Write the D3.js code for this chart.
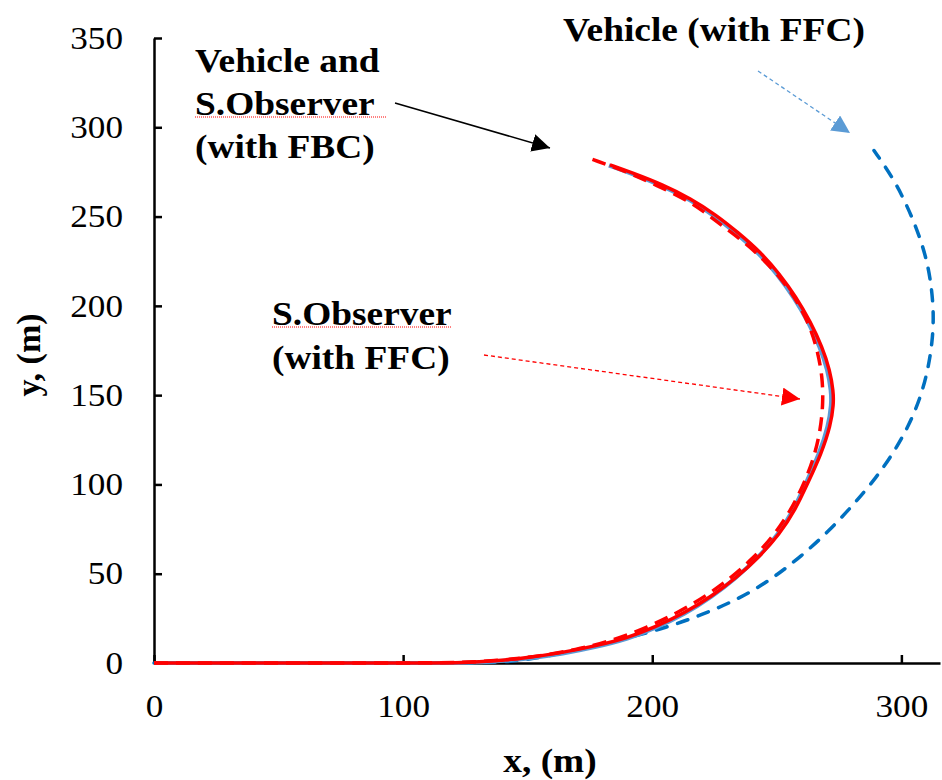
<!DOCTYPE html>
<html>
<head>
<meta charset="utf-8">
<script src="https://cdn.jsdelivr.net/npm/d3@7"></script>
<style>
  body { margin: 0; background: #fff; }
  text { font-family: "Liberation Serif", "Times New Roman", serif; }
</style>
</head>
<body>
<script>
// values (x, y in metres)
var obsFbcX = [0, 60, 110, 125, 136, 150, 163, 177, 190, 201, 213, 224, 234, 243, 251, 257.5, 262.5, 267.8, 271.6, 272.8, 272.7, 271.3, 268.2, 263.5, 257.7, 251, 243.5, 234.5, 225.5, 215.5, 204, 192, 183]
var obsFbcY = [0, 0, 0, 0.2, 1, 3, 5.6, 9.5, 14, 20, 28, 37.5, 48, 59.5, 72, 86, 101, 117, 133, 145, 152, 164, 177, 191, 205, 218, 230, 241, 251, 260, 268, 274.5, 279]

var vehFbcX = [0, 60, 110, 126, 137, 151, 164, 177.5, 190.3, 201.2, 213, 223.8, 233.6, 242.5, 250.4, 256.8, 261.7, 267, 270.7, 271.9, 271.8, 270.4, 267.3, 262.7, 256.9, 250.3, 242.9, 234, 225.1, 215.2, 203.8, 191.9, 182.6]
var vehFbcY = [0, 0, 0, 0.1, 0.8, 2.6, 5.1, 8.9, 13.4, 19.4, 27.3, 36.9, 47.5, 59.1, 71.7, 85.8, 100.9, 117, 133, 145, 152, 164, 177, 190.8, 204.6, 217.4, 229.3, 240.3, 250.3, 259.4, 267.4, 274, 278.6]

var obsFfcX = [0, 60, 110, 130, 150, 170, 185, 198, 210, 221, 231, 240, 248, 255, 260.5, 265, 267.6, 268.6, 268.3, 266.5, 263.5, 258.5, 252, 244, 235, 225, 216, 201, 190, 176]
var obsFfcY = [0, 0, 0, 0.5, 2.8, 7.5, 13, 20, 28, 37, 47, 58, 70, 84, 99, 115, 131, 146, 160, 174, 188, 202, 215, 227, 238, 248, 258, 268, 275, 282]

var vehFfcX = [0, 60, 110, 135, 150, 176, 190, 206, 220, 235, 248, 260, 271, 281, 290, 297, 303, 307.5, 310.5, 312.5, 313, 312, 310, 306.5, 302, 296.5, 289]
var vehFfcY = [0, 0, 0, 0.1, 1.5, 9, 14, 20, 27, 36, 47, 60, 74, 89, 104, 118, 133, 148, 163, 180, 196, 212, 227, 242, 257, 272, 287]

var xTicks = [0, 100, 200, 300]
var yTicks = [0, 50, 100, 150, 200, 250, 300, 350]

var width = 942, height = 780
var stretchX = 1.1

var svg = d3.select("body").append("svg")
    .attr("width", width)
    .attr("height", height)

var xScale = d3.scaleLinear().domain([0, 315.5]).range([154, 940])
var yScale = d3.scaleLinear().domain([0, 350]).range([663, 38])

function zip(xs, ys) {
  return xs.map(function(x, i) { return [x, ys[i]] })
}

// the original picture is a little wider than tall, stretch the glyphs the same way
function stretch(sel) {
  sel.each(function() {
    var w = this.getComputedTextLength()
    d3.select(this).attr("textLength", w * stretchX).attr("lengthAdjust", "spacingAndGlyphs")
  })
}

var defs = svg.append("defs")
function marker(id, color, size) {
  defs.append("marker")
      .attr("id", id)
      .attr("viewBox", "0 0 10 10")
      .attr("refX", 10).attr("refY", 5)
      .attr("markerUnits", "userSpaceOnUse")
      .attr("markerWidth", size).attr("markerHeight", size)
      .attr("orient", "auto")
    .append("path")
      .attr("d", "M0,0L10,5L0,10Z")
      .attr("fill", color)
}
marker("arBlack", "#000", 18)
marker("arRed", "#ff0000", 18)
marker("arBlue", "#5b9bd5", 18)

// axes (ticks pointing inward)
var xAxis = d3.axisBottom(xScale).tickValues(xTicks).tickSizeInner(-8).tickSizeOuter(0).tickPadding(31)
var yAxis = d3.axisLeft(yScale).tickValues(yTicks).tickSizeInner(-8).tickSizeOuter(0).tickPadding(31)

var gx = svg.append("g").attr("transform", "translate(0," + yScale(0) + ")").call(xAxis)
var gy = svg.append("g").attr("transform", "translate(" + xScale(0) + ",0)").call(yAxis)

;[gx, gy].forEach(function(g) {
  g.selectAll("path, line").attr("stroke", "#000").attr("stroke-width", 2.5)
  g.selectAll("text").attr("font-size", 32).attr("fill", "#000")
    .style("font-family", "Liberation Serif")
  stretch(g.selectAll("text"))
})
gx.selectAll("text").attr("dy", "0.71em")

var line = d3.line()
    .x(function(d) { return xScale(d[0]) })
    .y(function(d) { return yScale(d[1]) })
    .curve(d3.curveBasis)

svg.append("path").datum(zip(vehFfcX, vehFfcY))
    .attr("d", line).attr("fill", "none")
    .attr("stroke", "#0070c0").attr("stroke-width", 3.5)
    .attr("stroke-dasharray", "11,11").attr("stroke-linecap", "round")

svg.append("path").datum(zip(vehFbcX, vehFbcY))
    .attr("d", line).attr("fill", "none")
    .attr("stroke", "#5b9bd5").attr("stroke-width", 4)

svg.append("path").datum(zip(obsFbcX, obsFbcY))
    .attr("d", line).attr("fill", "none")
    .attr("stroke", "#ff0000").attr("stroke-width", 3.5)

svg.append("path").datum(zip(obsFfcX, obsFfcY))
    .attr("d", line).attr("fill", "none")
    .attr("stroke", "#ff0000").attr("stroke-width", 3.5)
    .attr("stroke-dasharray", "14,8")

// axis titles
var xt = svg.append("text")
    .attr("x", 550).attr("y", 772)
    .attr("text-anchor", "middle")
    .attr("font-size", 34).attr("font-weight", "bold")
    .text("x, (m)")
stretch(xt)

svg.append("text")
    .attr("transform", "translate(40,355) rotate(-90)")
    .attr("text-anchor", "middle")
    .attr("font-size", 34).attr("font-weight", "bold")
    .text("y, (m)")

// annotations
function label(lines, x, y, lh) {
  var t = svg.append("text").attr("x", x).attr("y", y)
      .attr("font-size", 34).attr("font-weight", "bold")
  lines.forEach(function(s, i) {
    t.append("tspan").attr("x", x).attr("dy", i === 0 ? 0 : lh).text(s)
  })
  stretch(t.selectAll("tspan"))
  return t
}
label(["Vehicle and", "S.Observer", "(with FBC)"], 195, 72, 43)
label(["Vehicle (with FFC)"], 563, 41, 0)
label(["S.Observer", "(with FFC)"], 272, 325, 44)

// spell-check squiggles under S.Observer
svg.append("line").attr("x1", 195).attr("x2", 386).attr("y1", 117).attr("y2", 117)
    .attr("stroke", "#ff0000").attr("stroke-width", 1).attr("stroke-dasharray", "1,1")
svg.append("line").attr("x1", 272).attr("x2", 451).attr("y1", 327).attr("y2", 327)
    .attr("stroke", "#ff0000").attr("stroke-width", 1).attr("stroke-dasharray", "1,1")

// arrows
svg.append("line").attr("x1", 395).attr("y1", 103).attr("x2", 550).attr("y2", 148)
    .attr("stroke", "#000").attr("stroke-width", 1.5).attr("marker-end", "url(#arBlack)")
svg.append("line").attr("x1", 758).attr("y1", 71).attr("x2", 850).attr("y2", 133)
    .attr("stroke", "#5b9bd5").attr("stroke-width", 1.3).attr("stroke-dasharray", "4,3")
    .attr("marker-end", "url(#arBlue)")
svg.append("line").attr("x1", 484).attr("y1", 355).attr("x2", 800).attr("y2", 399)
    .attr("stroke", "#ff0000").attr("stroke-width", 1.3).attr("stroke-dasharray", "4,3")
    .attr("marker-end", "url(#arRed)")
</script>
</body>
</html>
